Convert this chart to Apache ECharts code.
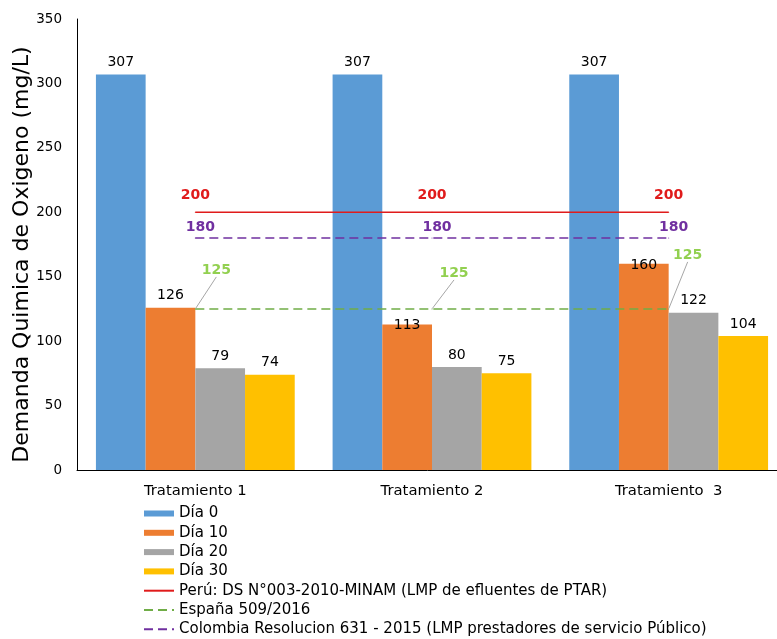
<!DOCTYPE html>
<html>
<head>
<meta charset="utf-8">
<script src="https://cdn.jsdelivr.net/npm/echarts@6/dist/echarts.min.js"></script>
<style>
  html, body { margin: 0; padding: 0; background: #fff; }
  #chart { width: 777px; height: 639px; }
</style>
</head>
<body>
<div id="chart"></div>
<script>
// Treatments on the x axis
const categories = ['Tratamiento 1', 'Tratamiento 2', 'Tratamiento  3'];

// DQO measured per sampling day (mg/L)
const dia0 = [307, 307, 307];
const dia10 = [126, 113, 160];
const dia20 = [79, 80, 122];
const dia30 = [74, 75, 104];

// Regulatory limits (mg/L)
const limitePeru = [200, 200, 200];
const limiteEspana = [125, 125, 125];
const limiteColombia = [180, 180, 180];

const yTicks = { min: 0, max: 350, interval: 50 };

const FONT = 'DejaVu Sans';
const PERU = 'Perú: DS N°003-2010-MINAM (LMP de efluentes de PTAR)';
const ESPANA = 'España 509/2016';
const COLOMBIA = 'Colombia Resolucion 631 - 2015 (LMP prestadores de servicio Público)';

const chart = echarts.init(document.getElementById('chart'), null, { renderer: 'canvas' });

function barSeries(name, data, color, layout) {
  const s = {
    name: name,
    type: 'bar',
    data: data,
    barGap: 0,
    barCategoryGap: '16%',
    itemStyle: { color: color },
    label: {
      show: true,
      position: 'top',
      distance: 5,
      color: '#000',
      fontFamily: FONT,
      fontSize: 14
    }
  };
  if (layout) s.labelLayout = layout;
  return s;
}

function limitSeries(name, data, color, labelColor, dashed, label) {
  return {
    name: name,
    type: 'line',
    data: data,
    symbol: 'circle',
    symbolSize: 1,
    itemStyle: { color: color },
    lineStyle: { color: color, width: 1.5, type: dashed ? [9, 5] : 'solid' },
    label: Object.assign({
      show: true,
      position: 'inside',
      color: labelColor,
      fontFamily: FONT,
      fontSize: 14,
      fontWeight: 'bold'
    }, label),
    z: 5
  };
}

// Shift for the green labels, which sit above and to the right with a guide line
const greenShift = [[21, -39], [22, -36], [19, -54]];
// Two Día 10 labels overlap the top of their bars
const dia10Shift = [0, 13, 14];

const option = {
  backgroundColor: '#fff',
  animation: false,
  textStyle: { fontFamily: FONT },
  grid: { left: 77, top: 19, width: 710, height: 451, containLabel: false, outerBoundsMode: 'none' },
  xAxis: {
    type: 'category',
    data: categories,
    axisLine: { show: true, lineStyle: { color: '#000', width: 1 } },
    axisTick: { show: false },
    axisLabel: { color: '#000', fontFamily: FONT, fontSize: 14.8, margin: 14 }
  },
  yAxis: {
    type: 'value',
    min: yTicks.min,
    max: yTicks.max,
    interval: yTicks.interval,
    name: 'Demanda Quimica de Oxigeno (mg/L)',
    nameLocation: 'middle',
    nameGap: 44,
    nameMoveOverlap: false,
    nameTextStyle: { color: '#000', fontFamily: FONT, fontSize: 22, padding: [0, 20, 0, 0] },
    axisLine: { show: true, lineStyle: { color: '#000', width: 1 } },
    axisTick: { show: false },
    splitLine: { show: false },
    axisLabel: { color: '#000', fontFamily: FONT, fontSize: 13.5, margin: 15 }
  },
  legend: {
    orient: 'vertical',
    left: 143,
    top: 506,
    height: 140,
    padding: 0,
    itemWidth: 30,
    itemHeight: 6,
    itemGap: 4.3,
    textStyle: { color: '#000', fontFamily: FONT, fontSize: 15 },
    data: [
      { name: 'Día 0', icon: 'rect' },
      { name: 'Día 10', icon: 'rect' },
      { name: 'Día 20', icon: 'rect' },
      { name: 'Día 30', icon: 'rect' },
      { name: PERU, itemStyle: { opacity: 0 } },
      { name: ESPANA, itemStyle: { opacity: 0 } },
      { name: COLOMBIA, itemStyle: { opacity: 0 } }
    ]
  },
  series: [
    barSeries('Día 0', dia0, '#5B9BD5'),
    barSeries('Día 10', dia10, '#ED7D31', function (p) {
      return { dy: dia10Shift[p.dataIndex] };
    }),
    barSeries('Día 20', dia20, '#A5A5A5'),
    barSeries('Día 30', dia30, '#FFC000'),
    limitSeries(PERU, limitePeru, '#E01B1B', '#E01B1B', false, { offset: [0, -17] }),
    Object.assign(
      limitSeries(ESPANA, limiteEspana, '#70AD47', '#92D050', true, {}),
      {
        labelLine: { show: true, lineStyle: { color: '#A6A6A6', width: 1 } },
        labelLayout: function (p) {
          const s = greenShift[p.dataIndex];
          return { dx: s[0], dy: s[1] };
        }
      }
    ),
    limitSeries(COLOMBIA, limiteColombia, '#7030A0', '#7030A0', true, { offset: [5, -11] })
  ]
};

chart.setOption(option);
</script>
</body>
</html>
